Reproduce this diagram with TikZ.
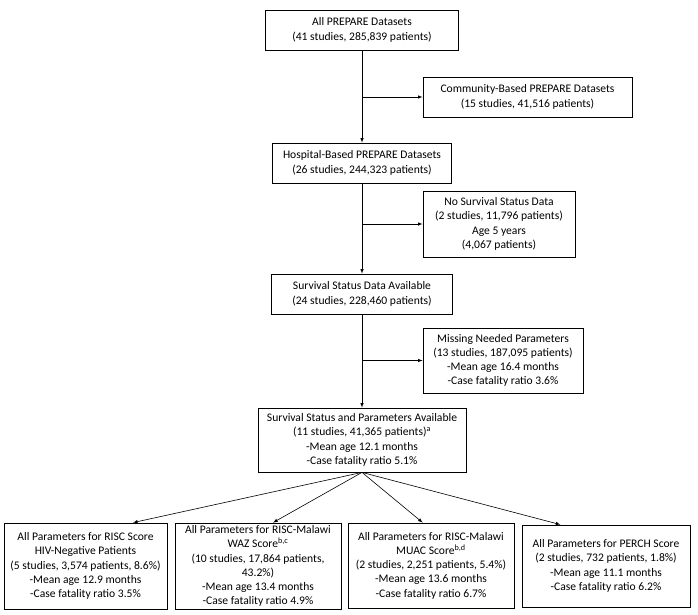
\documentclass[tikz,border=0pt]{standalone}
\usepackage{fontspec}
\setmainfont{Carlito}
\usepackage{tikz}
\usetikzlibrary{arrows,calc,positioning}
\tikzset{>=latex}

\begin{document}
\begin{tikzpicture}[x=1pt,y=-1pt,
              box/.style={draw, line width=0.8pt, align=center, inner sep=1pt,
                          font=\fontsize{11.6}{14.2}\selectfont},
              flow/.style={line width=0.6pt,->},
             ]
\useasboundingbox (0,0) rectangle (698,615);

% main column
\node[box, minimum width=193, minimum height=40] (all) at (362,30)
  {All PREPARE Datasets\\(41 studies, 285,839 patients)};
\node[box, minimum width=179, minimum height=40] (hosp) at (362,163)
  {Hospital-Based PREPARE Datasets\\(26 studies, 244,323 patients)};
\node[box, minimum width=181, minimum height=40] (surv) at (362,294)
  {Survival Status Data Available\\(24 studies, 228,460 patients)};
\node[box, minimum width=208, minimum height=64] (avail) at (362,440)
  {Survival Status and Parameters Available\\(11 studies, 41,365 patients)\textsuperscript{a}\\-Mean age 12.1 months\\-Case fatality ratio 5.1\%};

% exclusions
\node[box, minimum width=209, minimum height=40] (comm) at (527.5,97)
  {Community-Based PREPARE Datasets\\(15 studies, 41,516 patients)};
\node[box, minimum width=152, minimum height=66] (nosurv) at (499,224)
  {No Survival Status Data\\(2 studies, 11,796 patients)\\Age 5 years\\(4,067 patients)};
\node[box, minimum width=160, minimum height=65] (miss) at (503,360.5)
  {Missing Needed Parameters\\(13 studies, 187,095 patients)\\-Mean age 16.4 months\\-Case fatality ratio 3.6\%};

% scores
\node[box, minimum width=163, minimum height=86] (risc) at (85.5,566)
  {All Parameters for RISC Score\\HIV-Negative Patients\\(5 studies, 3,574 patients, 8.6\%)\\-Mean age 12.9 months\\-Case fatality ratio 3.5\%};
\node[box, minimum width=166, minimum height=86] (waz) at (258,566)
  {All Parameters for RISC-Malawi\\WAZ Score\textsuperscript{b,c}\\(10 studies, 17,864 patients,\\43.2\%)\\-Mean age 13.4 months\\-Case fatality ratio 4.9\%};
\node[box, minimum width=166, minimum height=85] (muac) at (431,565.5)
  {All Parameters for RISC-Malawi\\MUAC Score\textsuperscript{b,d}\\(2 studies, 2,251 patients, 5.4\%)\\-Mean age 13.6 months\\-Case fatality ratio 6.7\%};
\node[box, minimum width=168, minimum height=82] (perch) at (606,566)
  {All Parameters for PERCH Score\\(2 studies, 732 patients, 1.8\%)\\-Mean age 11.1 months\\-Case fatality ratio 6.2\%};

\draw[flow] (all) -- (hosp);
\draw[flow] (hosp) -- (surv);
\draw[flow] (surv) -- (avail);
\draw[flow] (all.south |- comm.west) -- (comm.west);
\draw[flow] (all.south |- nosurv.west) -- (nosurv.west);
\draw[flow] (all.south |- miss.west) -- (miss.west);

\draw[flow] (avail.south) -- ($(risc.north west)!0.79!(risc.north east)$);
\draw[flow] (avail.south) -- ($(waz.north west)!0.59!(waz.north east)$);
\draw[flow] (avail.south) -- ($(muac.north west)!0.45!(muac.north east)$);
\draw[flow] (avail.south) -- ($(perch.north west)!0.23!(perch.north east)$);
\end{tikzpicture}
\end{document}
